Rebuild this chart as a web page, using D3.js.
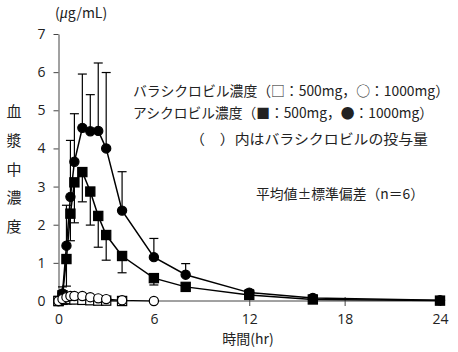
<!DOCTYPE html>
<html>
<head>
<meta charset="utf-8">
<script src="https://cdn.jsdelivr.net/npm/d3@7"></script>
<style>
  body { margin: 0; background: #fff; }
  text { font-family: "Noto Sans CJK JP", "Noto Sans", sans-serif; fill: #222; }
</style>
</head>
<body>
<div id="chart"></div>
<script>
// sampling times (hr)
var times = [0, 0.25, 0.5, 0.75, 1, 1.5, 2, 2.5, 3, 4, 6, 8, 12, 16, 24];

// aciclovir, 1000mg (filled circle) mean and SD (upper bar)
var acy1000 = [0, 0.2, 1.45, 2.73, 3.65, 4.54, 4.45, 4.46, 4.0, 2.37, 1.15, 0.69, 0.22, 0.08, 0.02];
var acy1000Sd = [0, 0.17, 1.06, 1.48, 1.26, 1.41, 0.96, 1.78, 1.99, 1.02, 0.49, 0.29, 0.08, 0.04, 0.01];

// aciclovir, 500mg (filled square) mean and SD (lower bar)
var acy500 = [0, 0.15, 1.1, 2.29, 3.11, 3.38, 2.87, 2.23, 1.73, 1.18, 0.6, 0.37, 0.16, 0.04, 0.01];
var acy500Sd = [0, 0.1, 0.71, 0.71, 1.06, 0.78, 0.88, 0.82, 0.66, 0.44, 0.18, 0.07, 0.06, 0.02, 0.01];

// valaciclovir (open markers), only measured up to 6 / 4 hr
var valTimes1000 = [0, 0.25, 0.5, 0.75, 1, 1.5, 2, 2.5, 3, 4, 6];
var val1000 = [0, 0.05, 0.1, 0.13, 0.13, 0.13, 0.1, 0.07, 0.05, 0.02, 0.0];
var valTimes500 = [0, 0.25, 0.5, 0.75, 1, 1.5, 2, 2.5, 3, 4];
var val500 = [0, 0.03, 0.04, 0.05, 0.04, 0.03, 0.02, 0.01, 0.01, 0.0];

var xTicks = [0, 6, 12, 18, 24];
var yTicks = [0, 1, 2, 3, 4, 5, 6, 7];
var yLabelChars = ["血", "漿", "中", "濃", "度"];
var legendLines = [
  "バラシクロビル濃度（□：500mg，○：1000mg）",
  "アシクロビル濃度（■：500mg，●：1000mg）",
  "（　）内はバラシクロビルの投与量",
  "平均値±標準偏差（n＝6）"
];

var W = 458, H = 352;

var svg = d3.select("#chart").append("svg")
    .attr("width", W)
    .attr("height", H);

var x = d3.scaleLinear().domain([0, 24]).range([58.5, 440]);
var y = d3.scaleLinear().domain([0, 7]).range([301, 34]);

// axes
var xAxis = svg.append("g")
    .attr("transform", "translate(0," + y(0) + ")")
    .call(d3.axisBottom(x).tickValues(xTicks).tickFormat(d3.format("d"))
      .tickSize(5).tickPadding(8).tickSizeOuter(0));
xAxis.select(".domain").attr("d", "M" + x(0) + ",0H" + x(24.3));
xAxis.selectAll(".tick line").attr("y1", -4).attr("y2", 5);

var yAxis = svg.append("g")
    .attr("transform", "translate(" + x(0) + ",0)")
    .call(d3.axisLeft(y).tickValues(yTicks).tickFormat(d3.format("d"))
      .tickSize(5).tickPadding(8).tickSizeOuter(0));

svg.selectAll(".domain, .tick line").attr("stroke", "#444").attr("stroke-width", 1);
svg.selectAll(".tick text")
    .style("font-family", "'Open Sans', 'Noto Sans', sans-serif")
    .style("font-size", "14px")
    .attr("fill", "#333");

// error bars
function errBars(ts, vals, sds, dir) {
  var g = svg.append("g").attr("stroke", "#000").attr("stroke-width", 1.2);
  ts.forEach(function (t, i) {
    if (sds[i] <= 0) return;
    var end = vals[i] + dir * sds[i];
    g.append("line")
      .attr("x1", x(t)).attr("x2", x(t))
      .attr("y1", y(vals[i])).attr("y2", y(end));
    g.append("line")
      .attr("x1", x(t) - 4.5).attr("x2", x(t) + 4.5)
      .attr("y1", y(end)).attr("y2", y(end));
  });
}

function series(ts, vals, width) {
  var line = d3.line()
    .x(function (d, i) { return x(ts[i]); })
    .y(function (d) { return y(d); });
  svg.append("path")
    .datum(vals)
    .attr("d", line)
    .attr("fill", "none")
    .attr("stroke", "#000")
    .attr("stroke-width", width);
}

function circles(ts, vals, fill) {
  svg.append("g").selectAll("circle")
    .data(vals)
    .enter()
    .append("circle")
      .attr("cx", function (d, i) { return x(ts[i]); })
      .attr("cy", function (d) { return y(d); })
      .attr("r", 4.6)
      .attr("fill", fill)
      .attr("stroke", "#000")
      .attr("stroke-width", 1.2);
}

function squares(ts, vals, fill) {
  svg.append("g").selectAll("rect")
    .data(vals)
    .enter()
    .append("rect")
      .attr("x", function (d, i) { return x(ts[i]) - 4.6; })
      .attr("y", function (d) { return y(d) - 4.6; })
      .attr("width", 9.2)
      .attr("height", 9.2)
      .attr("fill", fill)
      .attr("stroke", "#000")
      .attr("stroke-width", 1.2);
}

errBars(times, acy1000, acy1000Sd, 1);
errBars(times, acy500, acy500Sd, -1);

series(valTimes500, val500, 1.2);
series(valTimes1000, val1000, 1.2);
series(times, acy500, 1.5);
series(times, acy1000, 1.5);

squares(times, acy500, "#000");
circles(times, acy1000, "#000");
squares(valTimes500, val500, "#fff");
circles(valTimes1000, val1000, "#fff");

// unit label
var unit = svg.append("text")
    .attr("x", 55).attr("y", 18)
    .style("font-size", "14px");
unit.append("tspan").text("(");
unit.append("tspan").text("μ")
    .style("font-family", "'Liberation Serif', serif")
    .style("font-style", "italic")
    .style("font-size", "16px");
unit.append("tspan").text("g/mL)");

// vertical y label
svg.append("g").selectAll("text")
    .data(yLabelChars)
    .enter()
    .append("text")
      .attr("x", 14)
      .attr("y", function (d, i) { return 117 + i * 28.8; })
      .attr("text-anchor", "middle")
      .style("font-size", "15px")
      .text(function (d) { return d; });

// x label
svg.append("text")
    .attr("x", 248).attr("y", 344)
    .attr("text-anchor", "middle")
    .style("font-size", "14px")
    .text("時間(hr)");

// legend notes
var legendPos = [
  {x: 133, y: 96, w: 316},
  {x: 133, y: 118, w: 300},
  {x: 190, y: 144, w: 238},
  {x: 256, y: 199, w: 168}
];
svg.append("g").selectAll("text")
    .data(legendLines)
    .enter()
    .append("text")
      .attr("x", function (d, i) { return legendPos[i].x; })
      .attr("y", function (d, i) { return legendPos[i].y; })
      .attr("textLength", function (d, i) { return legendPos[i].w; })
      .attr("lengthAdjust", "spacingAndGlyphs")
      .style("font-size", "14px")
      .text(function (d) { return d; });
</script>
</body>
</html>
